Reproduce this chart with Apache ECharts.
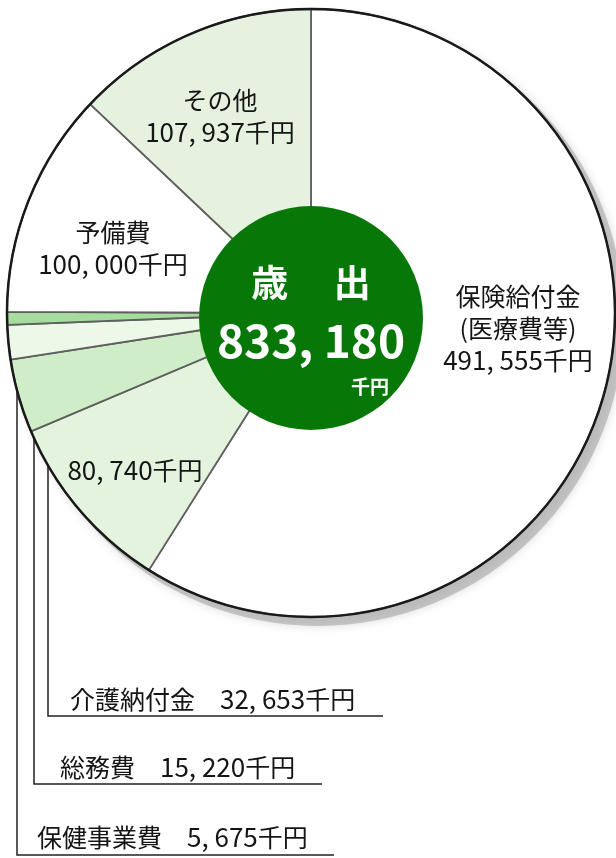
<!DOCTYPE html>
<html><head><meta charset="utf-8">
<script src="https://cdn.jsdelivr.net/npm/echarts@6/dist/echarts.min.js"></script>
<style>html,body{margin:0;padding:0;background:#fff}#c{width:616px;height:858px}</style>
</head><body><div id="c"></div>
<script>
// ---- data ----
const categories = ['保険給付金\n(医療費等)', '', '介護納付金', '総務費', '保健事業費', '予備費', 'その他'];
const values = [491555, 80740, 32653, 15220, 5675, 100000, 107937];
const totalTitle = '歳 　出';
const totalValue = 833180;
const unit = '千円';

// ---- styles ----
const sliceColors = ['#ffffff', '#e4f3de', '#cfeec7', '#ecf8e8', '#a6dc9e', '#ffffff', '#e6f2e0'];
const FONT_J = '"Noto Sans CJK JP", sans-serif';
const FONT_N = '"Noto Sans CJK JP", sans-serif';
const fmt = v => v.toLocaleString('en-US').replace(/,/g, ', ');

// label layout (positions only)
const labelPos = {
  0: {x: 518, y: 328, align: 'center', verticalAlign: 'middle'},
  1: {x: 135, y: 470, align: 'center', verticalAlign: 'middle'},
  2: {x: 70, y: 715, align: 'left', verticalAlign: 'bottom', line: [[48, 391], [48, 716], [383, 716]]},
  3: {x: 60, y: 783, align: 'left', verticalAlign: 'bottom', line: [[34, 345], [34, 784], [322, 784]]},
  4: {x: 37, y: 853, align: 'left', verticalAlign: 'bottom', line: [[17, 318], [17, 855], [334, 855]]},
  5: {x: 113, y: 248, align: 'center', verticalAlign: 'middle'},
  6: {x: 220, y: 116, align: 'center', verticalAlign: 'middle'}
};

const pieCenter = [311, 313];
const pieR = 304;

const chart = echarts.init(document.getElementById('c'), null, {renderer: 'canvas'});
chart.setOption({
  animation: false,
  series: [
    { // shadow
      type: 'pie', silent: true, z: 1,
      center: [pieCenter[0] + 7, pieCenter[1] + 7], radius: pieR + 2,
      label: {show: false}, labelLine: {show: false},
      itemStyle: {color: 'rgba(160,160,160,0.55)', shadowBlur: 10, shadowColor: 'rgba(150,150,150,0.6)'},
      data: [{value: 1}]
    },
    { // main pie
      type: 'pie', z: 2, silent: true,
      center: pieCenter, radius: pieR, startAngle: 90, clockwise: true,
      avoidLabelOverlap: false,
      itemStyle: {borderColor: '#5f5f5f', borderWidth: 1.8},
      label: {
        show: true, position: 'outside',
        formatter: p => {
          const i = p.dataIndex;
          const v = '{n|' + fmt(p.value) + '}{j|' + unit + '}';
          if (i === 0 || i === 5 || i === 6) {
            return p.name.split('\n').map(s => '{j|' + s + '}').join('\n') + '\n' + v;
          }
          if (i === 1) return v;
          return '{j|' + p.name + '　}' + v;
        },
        rich: {
          j: {fontFamily: FONT_J, fontSize: 25, color: '#151515', lineHeight: 32},
          n: {fontFamily: FONT_N, fontSize: 26, color: '#151515', lineHeight: 32}
        }
      },
      labelLine: {show: true, lineStyle: {color: '#222', width: 1.5}},
      labelLayout: p => {
        const L = labelPos[p.dataIndex];
        const r = {x: L.x, y: L.y, align: L.align, verticalAlign: L.verticalAlign};
        if (L.line) r.labelLinePoints = L.line;
        return r;
      },
      data: values.map((v, i) => ({
        value: v, name: categories[i],
        itemStyle: {color: sliceColors[i]},
        labelLine: {show: !!labelPos[i].line}
      }))
    },
    { // outer outline
      type: 'pie', silent: true, z: 3,
      center: pieCenter, radius: pieR,
      label: {show: false}, labelLine: {show: false},
      itemStyle: {color: 'rgba(0,0,0,0)', borderColor: '#1a1a1a', borderWidth: 2.5},
      data: [{value: 1}]
    },
    { // center total
      type: 'pie', silent: true, z: 4,
      center: [311, 318], radius: 112,
      itemStyle: {color: '#077807'},
      label: {
        show: true, position: 'center', offset: [0, 11],
        formatter: p => '{t|' + totalTitle + '}\n{v|' + fmt(p.value) + '}\n{u|' + unit + '}',
        rich: {
          t: {fontFamily: FONT_J, fontSize: 37, fontWeight: 'bold', color: '#fff', lineHeight: 56},
          v: {fontFamily: FONT_N, fontSize: 46, fontWeight: 'bold', color: '#fff', lineHeight: 60},
          u: {fontFamily: FONT_J, fontSize: 19, fontWeight: 'bold', color: '#fff', lineHeight: 32, align: 'right', padding: [0, 16, 0, 0]}
        }
      },
      labelLine: {show: false},
      data: [{value: totalValue, name: totalTitle}]
    }
  ]
});
</script></body></html>
